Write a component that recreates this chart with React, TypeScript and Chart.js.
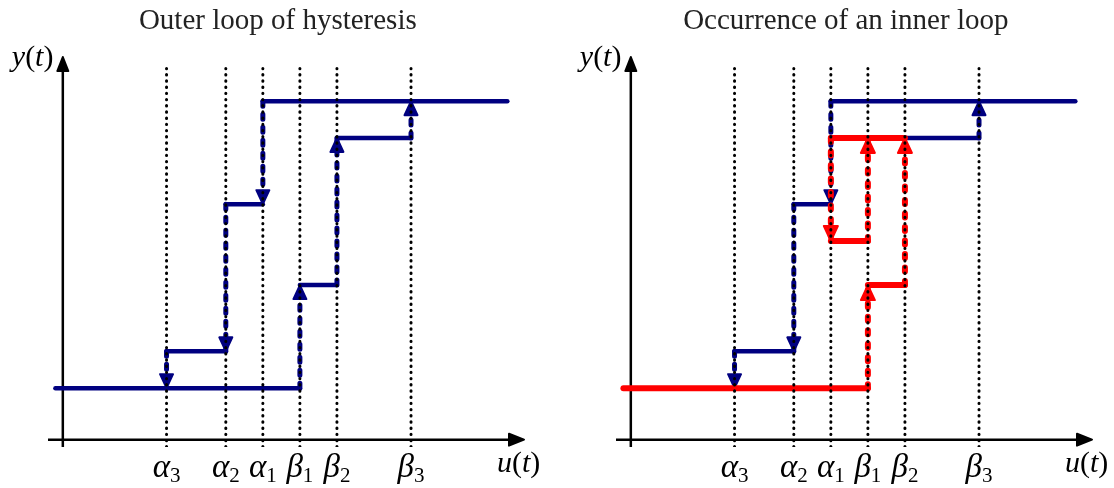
import React, { useEffect, useRef } from "react";
import { Chart, registerables } from "chart.js";

Chart.register(...registerables);

// thresholds on the u axis: α3, α2, α1, β1, β2, β3
const thresholdGreek = ["α", "α", "α", "β", "β", "β"];
const thresholdIndex = ["3", "2", "1", "1", "2", "3"];
const thresholdU = [2.8, 4.4, 5.4, 6.4, 7.4, 9.4];
// output levels y0..y5 and the level of the inner loop
const outputLevels = [1.4, 2.4, 4.2, 6.4, 8.2, 9.2];
const innerLevel = 5.4;
const uStart = -0.2;
const uEnd = 12.0;
const uAxisRange = [-0.4, 12.45];
const yAxisRange = [-0.2, 10.4];
const dottedTop = 10.2;

const panelTitles = ["Outer loop of hysteresis", "Occurrence of an inner loop"];

const [A3, A2, A1, B1, B2, B3] = thresholdU;
const [Y0, Y1, Y2, Y3, Y4, Y5] = outputLevels;
const YI = innerLevel;

// segments: [u1, y1, u2, y2]
const outerFlat = [
  [uStart, Y0, B1, Y0],
  [B1, Y2, B2, Y2],
  [B2, Y4, B3, Y4],
  [A1, Y5, uEnd, Y5],
  [A2, Y3, A1, Y3],
  [A3, Y1, A2, Y1],
];
const outerJumps = [
  [B1, Y0, B1, Y2],
  [B2, Y2, B2, Y4],
  [B3, Y4, B3, Y5],
  [A1, Y5, A1, Y3],
  [A2, Y3, A2, Y1],
  [A3, Y1, A3, Y0],
];
const innerBlueFlat = [
  [A1, Y5, uEnd, Y5],
  [B2, Y4, B3, Y4],
  [A2, Y3, A1, Y3],
  [A3, Y1, A2, Y1],
];
const innerBlueJumps = [
  [B3, Y4, B3, Y5],
  [A1, Y5, A1, Y3],
  [A2, Y3, A2, Y1],
  [A3, Y1, A3, Y0],
];
const innerRedFlat = [
  [uStart, Y0, B1, Y0],
  [B1, Y2, B2, Y2],
  [A1, Y4, B2, Y4],
  [A1, YI, B1, YI],
];
const innerRedJumps = [
  [B1, Y0, B1, Y2],
  [B2, Y2, B2, Y4],
  [A1, Y4, A1, YI],
  [B1, YI, B1, Y4],
];

const BLUE = "#000080";
const RED = "#ff0000";
const SERIF = '"Liberation Serif", "Times New Roman", serif';
const W = 546;
const H = 488;

function segDataset(s: number[], color: string, width: number, dashed: boolean, order: number, dash: number[]) {
  return {
    data: [
      { x: s[0], y: s[1] },
      { x: s[2], y: s[3] },
    ],
    borderColor: color,
    borderWidth: width,
    borderDash: dashed ? dash : [],
    borderCapStyle: "round",
    borderJoinStyle: "round",
    pointRadius: 0,
    tension: 0,
    fill: false,
    order,
    arrow: dashed,
  };
}

function dottedDatasets() {
  return thresholdU.map((u) => ({
    data: [
      { x: u, y: yAxisRange[0] },
      { x: u, y: dottedTop },
    ],
    borderColor: "#000000",
    borderWidth: 3,
    borderDash: [0.4, 5.8],
    borderCapStyle: "round",
    pointRadius: 0,
    fill: false,
    order: 0,
    arrow: false,
  }));
}

const blueDash = [5, 8];
const redDash = [4, 9.5];

function leftDatasets() {
  return [
    ...dottedDatasets(),
    ...outerJumps.map((s) => segDataset(s, BLUE, 5, true, 2, blueDash)),
    ...outerFlat.map((s) => segDataset(s, BLUE, 4.5, false, 2, blueDash)),
  ];
}

function rightDatasets() {
  return [
    ...dottedDatasets(),
    ...innerRedJumps.map((s) => segDataset(s, RED, 6, true, 1, redDash)),
    ...innerRedFlat.map((s) => segDataset(s, RED, 6, false, 1, redDash)),
    ...innerBlueJumps.map((s) => segDataset(s, BLUE, 5, true, 2, blueDash)),
    ...innerBlueFlat.map((s) => segDataset(s, BLUE, 4.5, false, 2, blueDash)),
  ];
}

function arrowHead(ctx: CanvasRenderingContext2D, x1: number, y1: number, x2: number, y2: number, len: number, half: number, color: string) {
  const ang = Math.atan2(y2 - y1, x2 - x1);
  const bx = x2 - Math.cos(ang) * len;
  const by = y2 - Math.sin(ang) * len;
  const px = -Math.sin(ang) * half;
  const py = Math.cos(ang) * half;
  ctx.save();
  ctx.fillStyle = color;
  ctx.strokeStyle = color;
  ctx.lineWidth = 2;
  ctx.lineJoin = "round";
  ctx.beginPath();
  ctx.moveTo(x2, y2);
  ctx.lineTo(bx + px, by + py);
  ctx.lineTo(bx - px, by - py);
  ctx.closePath();
  ctx.fill();
  ctx.stroke();
  ctx.restore();
}

const arrowPlugin = {
  id: "segmentArrows",
  afterDatasetDraw(chart: any, args: any) {
    const ds = chart.data.datasets[args.index];
    if (!ds.arrow) return;
    const xs = chart.scales.x;
    const ys = chart.scales.y;
    const a = ds.data[0];
    const b = ds.data[1];
    const big = ds.borderWidth > 5;
    arrowHead(
      chart.ctx,
      xs.getPixelForValue(a.x),
      ys.getPixelForValue(a.y),
      xs.getPixelForValue(b.x),
      ys.getPixelForValue(b.y),
      big ? 15 : 14,
      big ? 7 : 6.5,
      ds.borderColor
    );
  },
};

const axesPlugin = {
  id: "arrowAxes",
  beforeDatasetsDraw(chart: any) {
    const ctx = chart.ctx as CanvasRenderingContext2D;
    const xs = chart.scales.x;
    const ys = chart.scales.y;
    const x0 = xs.getPixelForValue(0);
    const y0 = ys.getPixelForValue(0);
    const yTop = ys.getPixelForValue(yAxisRange[1]);
    const yBot = ys.getPixelForValue(yAxisRange[0]);
    const xL = xs.getPixelForValue(uAxisRange[0]);
    const xR = xs.getPixelForValue(uAxisRange[1]);
    ctx.save();
    ctx.strokeStyle = "#000";
    ctx.lineWidth = 2.5;
    ctx.beginPath();
    ctx.moveTo(x0, yBot);
    ctx.lineTo(x0, yTop + 10);
    ctx.moveTo(xL, y0);
    ctx.lineTo(xR - 10, y0);
    ctx.stroke();
    ctx.restore();
    arrowHead(ctx, x0, yBot, x0, yTop, 14, 5.5, "#000");
    arrowHead(ctx, xL, y0, xR, y0, 15, 6, "#000");
  },
};

type Piece = { t: string; italic: boolean; size: number; dy?: number };

function drawPieces(ctx: CanvasRenderingContext2D, pieces: Piece[], x: number, y: number, align: "left" | "center") {
  const widths = pieces.map((p) => {
    ctx.font = `${p.italic ? "italic " : ""}${p.size}px ${SERIF}`;
    return ctx.measureText(p.t).width;
  });
  const total = widths.reduce((a, b) => a + b, 0);
  let cx = align === "center" ? x - total / 2 : x;
  ctx.textAlign = "left";
  ctx.textBaseline = "alphabetic";
  pieces.forEach((p, i) => {
    ctx.font = `${p.italic ? "italic " : ""}${p.size}px ${SERIF}`;
    ctx.fillText(p.t, cx, y + (p.dy || 0));
    cx += widths[i];
  });
}

function labelsPlugin(title: string) {
  return {
    id: "hystLabels",
    afterDraw(chart: any) {
      const ctx = chart.ctx as CanvasRenderingContext2D;
      const xs = chart.scales.x;
      const ys = chart.scales.y;
      const x0 = xs.getPixelForValue(0);
      const y0 = ys.getPixelForValue(0);
      ctx.save();
      ctx.fillStyle = "#222";
      ctx.font = `29px ${SERIF}`;
      ctx.textAlign = "center";
      ctx.textBaseline = "alphabetic";
      ctx.fillText(title, x0 + 215, 29);

      ctx.fillStyle = "#000";
      const fs = 30;
      drawPieces(
        ctx,
        [
          { t: "y", italic: true, size: fs },
          { t: "(", italic: false, size: fs },
          { t: "t", italic: true, size: fs },
          { t: ")", italic: false, size: fs },
        ],
        x0 - 51,
        ys.getPixelForValue(yAxisRange[1]) + 9,
        "left"
      );
      drawPieces(
        ctx,
        [
          { t: "u", italic: true, size: fs },
          { t: "(", italic: false, size: fs },
          { t: "t", italic: true, size: fs },
          { t: ")", italic: false, size: fs },
        ],
        xs.getPixelForValue(uAxisRange[1]) - 27,
        y0 + 32,
        "left"
      );
      thresholdU.forEach((u, i) => {
        drawPieces(
          ctx,
          [
            { t: thresholdGreek[i], italic: true, size: 33 },
            { t: thresholdIndex[i], italic: false, size: 21, dy: 5 },
          ],
          xs.getPixelForValue(u),
          y0 + 37,
          "center"
        );
      });
      ctx.restore();
    },
  };
}

function Panel({ title, datasets, left }: { title: string; datasets: any[]; left: number }) {
  const ref = useRef<HTMLCanvasElement>(null);
  useEffect(() => {
    const chart = new Chart(ref.current as HTMLCanvasElement, {
      type: "line",
      data: { datasets } as any,
      options: {
        responsive: false,
        animation: false,
        devicePixelRatio: 1,
        events: [],
        layout: { padding: { left: 48, right: 22, top: 57, bottom: 41 } },
        scales: {
          x: { type: "linear", min: uAxisRange[0], max: uAxisRange[1], display: false },
          y: { type: "linear", min: yAxisRange[0], max: yAxisRange[1], display: false },
        },
        plugins: {
          legend: { display: false },
          tooltip: { enabled: false },
        },
      } as any,
      plugins: [axesPlugin, arrowPlugin, labelsPlugin(title)],
    });
    return () => chart.destroy();
  }, []);
  return (
    <div style={{ position: "absolute", left, top: 0, width: W, height: H }}>
      <canvas ref={ref} width={W} height={H} style={{ display: "block", width: W, height: H }} />
    </div>
  );
}

export default function App() {
  return (
    <div style={{ position: "absolute", left: 0, top: 0, width: 1114, height: 488, background: "#fff" }}>
      <Panel title={panelTitles[0]} datasets={leftDatasets()} left={0} />
      <Panel title={panelTitles[1]} datasets={rightDatasets()} left={568} />
    </div>
  );
}
